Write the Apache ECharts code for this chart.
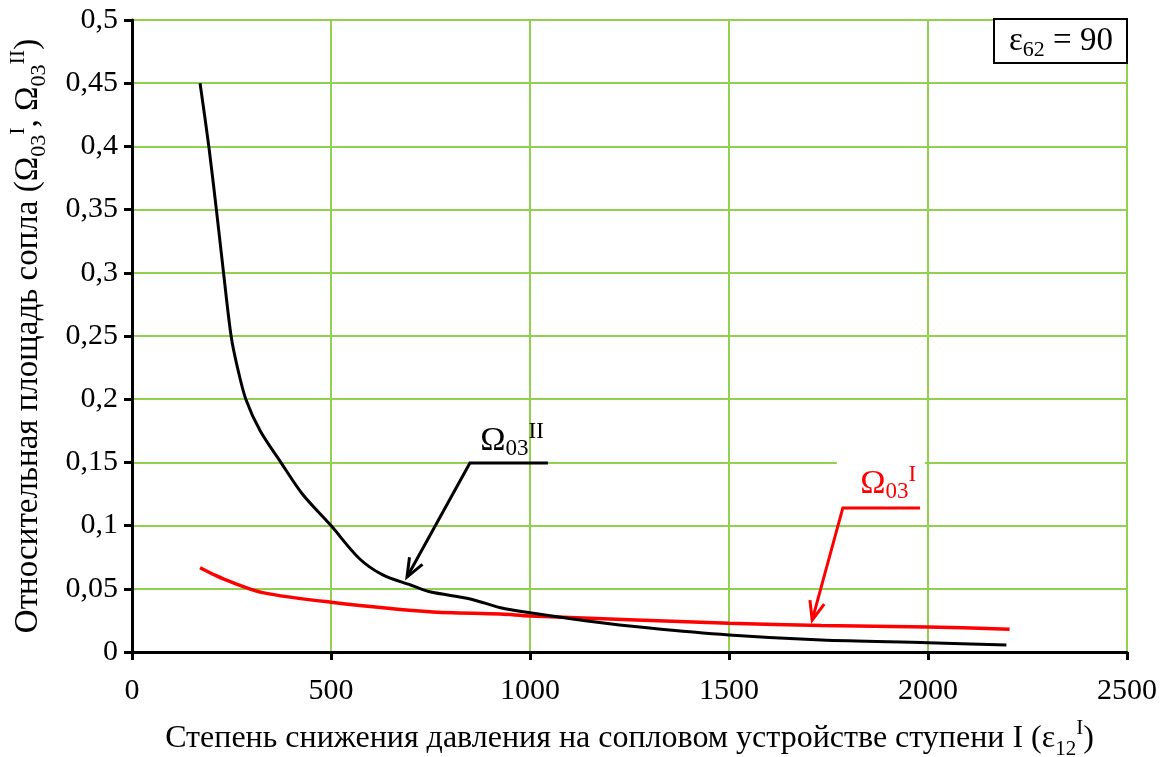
<!DOCTYPE html>
<html>
<head>
<meta charset="utf-8">
<script src="https://cdn.jsdelivr.net/npm/echarts@6/dist/echarts.min.js"></script>
<style>
html,body{margin:0;padding:0;background:#fff;}
#c{width:1167px;height:757px;}
</style>
</head>
<body>
<div id="c"></div>
<script>
// ---- data ----
const omegaIIx = [171, 193, 212, 230, 249, 265, 286, 322, 374, 428, 500, 571, 630, 700, 748, 850, 926, 1000, 1144, 1300, 1500, 1732, 2000, 2197];
const omegaIIy = [0.45, 0.40, 0.35, 0.30, 0.25, 0.225, 0.20, 0.175, 0.15, 0.125, 0.10, 0.074, 0.061, 0.053, 0.0476, 0.042, 0.035, 0.031, 0.0246, 0.019, 0.0135, 0.0095, 0.0074, 0.0055];
const omegaIx = [171, 210, 244, 328, 500, 748, 926, 1000, 1500, 1732, 2000, 2205];
const omegaIy = [0.0667, 0.0606, 0.056, 0.047, 0.0394, 0.0318, 0.030, 0.0285, 0.0227, 0.021, 0.0198, 0.018];
const xTicks = [0, 500, 1000, 1500, 2000, 2500];
const yTickLabels = ['0', '0,05', '0,1', '0,15', '0,2', '0,25', '0,3', '0,35', '0,4', '0,45', '0,5'];
// annotation anchors in data coordinates
const annII = {label: [955, 0.167], lineStart: [849, 0.1495], lineEnd: [1045, 0.1495], arrowEnd: [691, 0.0593]};
const annI = {label: [1900, 0.133], lineStart: [1786, 0.114], lineEnd: [1980, 0.114], arrowEnd: [1709, 0.0253]};
const gridGap = [1771, 1992]; // white label background interrupting 0,15 gridline

const FONT = '"Liberation Serif", "Times New Roman", serif';
const zip = (a, b) => a.map((v, i) => [v, b[i]]);

const chart = echarts.init(document.getElementById('c'), null, {renderer: 'canvas'});
function richSet(size, subSize) {
  return {
    b: {fontFamily: FONT, fontSize: size, color: '#000', lineHeight: size + 10},
    sub: {fontFamily: FONT, fontSize: subSize, color: '#000', verticalAlign: 'bottom', lineHeight: subSize},
    sup: {fontFamily: FONT, fontSize: subSize, color: '#000', verticalAlign: 'top', lineHeight: subSize}
  };
}
const option = {
  animation: false,
  backgroundColor: '#fff',
  grid: {left: 132, right: 40, top: 20, bottom: 105, containLabel: false, outerBoundsMode: 'none'},
  xAxis: {
    type: 'value', min: 0, max: 2500, interval: 500,
    axisLine: {show: true, onZero: false, lineStyle: {color: '#000', width: 3}},
    axisTick: {show: true, length: 8, lineStyle: {color: '#000', width: 3}},
    axisLabel: {fontFamily: FONT, fontSize: 30, color: '#000', margin: 24,
      formatter: v => xTicks.includes(v) ? String(v) : ''},
    splitLine: {show: true, lineStyle: {color: '#92D050', width: 2}},
    name: '{b|Степень снижения давления на сопловом устройстве ступени I (ε}{sub|12}{sup|I}{b|)}',
    nameLocation: 'middle', nameGap: 66,
    nameTextStyle: {rich: richSet(32, 21)}
  },
  yAxis: {
    type: 'value', min: 0, max: 0.5, interval: 0.05,
    axisLine: {show: true, lineStyle: {color: '#000', width: 3}},
    axisTick: {show: true, length: 8, lineStyle: {color: '#000', width: 3}},
    axisLabel: {fontFamily: FONT, fontSize: 30, color: '#000', margin: 14,
      formatter: v => yTickLabels[Math.round(v / 0.05)]},
    splitLine: {show: true, lineStyle: {color: '#92D050', width: 2}},
    name: '{b|Относительная площадь сопла (Ω}{sub|03}{sup|I}{b|, Ω}{sub|03}{sup|II}{b|)}',
    nameLocation: 'middle', nameGap: 82, nameRotate: 90,
    nameTextStyle: {rich: richSet(33, 22)}
  },
  series: [
    {name: 'II', type: 'line', data: zip(omegaIIx, omegaIIy), smooth: 0.3, showSymbol: false,
      lineStyle: {color: '#000', width: 3}, z: 5},
    {name: 'I', type: 'line', data: zip(omegaIx, omegaIy), smooth: 0.3, showSymbol: false,
      lineStyle: {color: '#FF0000', width: 3.5}, z: 4}
  ]
};
chart.setOption(option);

function px(p) { return chart.convertToPixel({gridIndex: 0}, p); }
function arrowGraphics(ann, color, txt) {
  const s = px(ann.lineStart), e = px(ann.lineEnd), a = px(ann.arrowEnd), l = px(ann.label);
  const ang = Math.atan2(a[1] - s[1], a[0] - s[0]);
  const L = 20, spread = 0.38;
  const h1 = [a[0] - L * Math.cos(ang - spread), a[1] - L * Math.sin(ang - spread)];
  const h2 = [a[0] - L * Math.cos(ang + spread), a[1] - L * Math.sin(ang + spread)];
  const ls = {stroke: color, lineWidth: 3, fill: null};
  const r = {
    b: {fontFamily: FONT, fontSize: 34, fill: color, lineHeight: 40},
    sub: {fontFamily: FONT, fontSize: 23, fill: color, verticalAlign: 'bottom', lineHeight: 22},
    sup: {fontFamily: FONT, fontSize: 23, fill: color, verticalAlign: 'top', lineHeight: 22}
  };
  return [
    {type: 'polyline', shape: {points: [e, s, a]}, style: ls, z: 20},
    {type: 'polyline', shape: {points: [h1, a, h2]}, style: ls, z: 20},
    {type: 'text', x: l[0], y: l[1], z: 20,
      style: {text: txt, rich: r, align: 'center', verticalAlign: 'middle'}}
  ];
}
const tr = px([2500, 0.5]);
const gapA = px([gridGap[0], 0.15]), gapB = px([gridGap[1], 0.15]);
chart.setOption({
  graphic: [
    {type: 'rect', shape: {x: gapA[0], y: gapA[1] - 2, width: gapB[0] - gapA[0], height: 4},
      style: {fill: '#fff'}, z: 15},
    ...arrowGraphics(annII, '#000', '{b|Ω}{sub|03}{sup|II}'),
    ...arrowGraphics(annI, '#FF0000', '{b|Ω}{sub|03}{sup|I}'),
    {type: 'rect', shape: {x: tr[0] - 133, y: tr[1] - 1, width: 133, height: 44},
      style: {fill: '#fff', stroke: '#000', lineWidth: 2}, z: 20},
    {type: 'text', x: tr[0] - 66, y: tr[1] + 21, z: 21,
      style: {text: '{b|ε}{sub|62}{b| = 90}', align: 'center', verticalAlign: 'middle',
        rich: {
          b: {fontFamily: FONT, fontSize: 33, fill: '#000', lineHeight: 40},
          sub: {fontFamily: FONT, fontSize: 22, fill: '#000', verticalAlign: 'bottom', lineHeight: 22}
        }}}
  ]
});
</script>
</body>
</html>
